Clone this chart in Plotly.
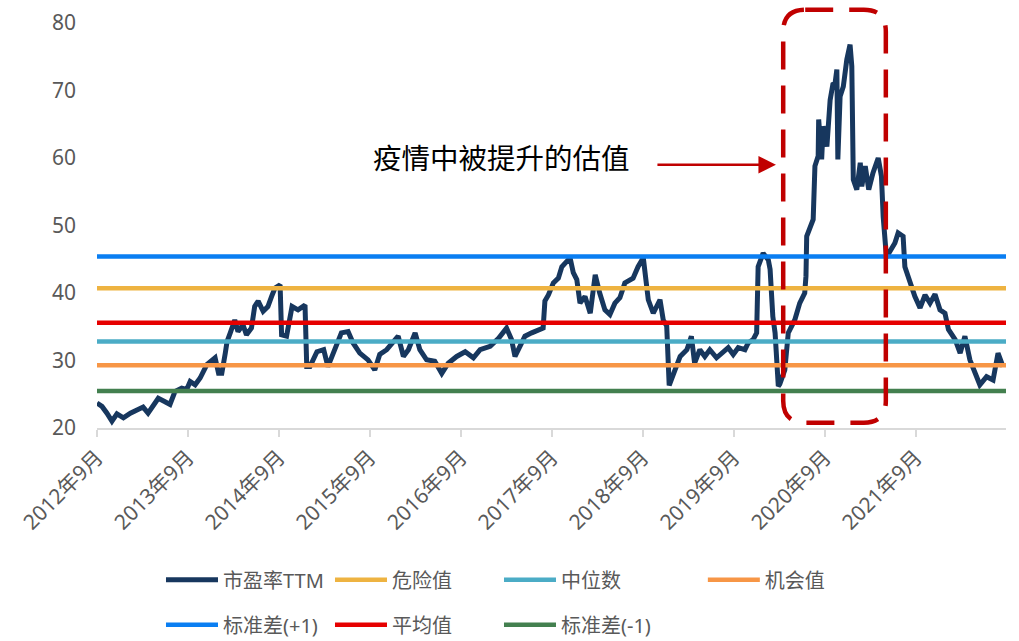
import plotly.graph_objects as go

# ---------------- data ----------------
dates = [
    "2012-09-01", "2012-09-21", "2012-10-11", "2012-10-31", "2012-11-20", "2012-12-16",
    "2013-01-13", "2013-02-09", "2013-03-05", "2013-03-25", "2013-04-15", "2013-05-05",
    "2013-06-01", "2013-06-21", "2013-07-11", "2013-08-07", "2013-08-27", "2013-09-10",
    "2013-09-30", "2013-10-20", "2013-11-16", "2013-12-06", "2013-12-19", "2014-01-02",
    "2014-01-15", "2014-01-29", "2014-02-05", "2014-02-18", "2014-03-08", "2014-03-21",
    "2014-04-10", "2014-04-24", "2014-05-14", "2014-05-27", "2014-06-10", "2014-06-30",
    "2014-07-19", "2014-08-03", "2014-08-16", "2014-09-06", "2014-09-12", "2014-10-02",
    "2014-10-24", "2014-11-17", "2014-12-15", "2014-12-22", "2015-01-04", "2015-02-01",
    "2015-02-28", "2015-03-17", "2015-04-07", "2015-05-10", "2015-06-06", "2015-06-26",
    "2015-07-23", "2015-08-25", "2015-09-21", "2015-10-11", "2015-11-08", "2015-12-04",
    "2015-12-24", "2016-01-14", "2016-02-03", "2016-03-01", "2016-03-20", "2016-04-16",
    "2016-05-19", "2016-06-16", "2016-07-12", "2016-08-15", "2016-09-18", "2016-10-21",
    "2016-11-17", "2016-12-27", "2017-01-30", "2017-03-03", "2017-03-23", "2017-04-06",
    "2017-04-26", "2017-05-16", "2017-06-12", "2017-07-08", "2017-07-28", "2017-08-04",
    "2017-08-18", "2017-09-07", "2017-09-27", "2017-10-11", "2017-10-31", "2017-11-13",
    "2017-11-26", "2017-12-10", "2017-12-23", "2018-01-12", "2018-02-02", "2018-02-22",
    "2018-03-12", "2018-04-02", "2018-04-22", "2018-05-12", "2018-06-01", "2018-06-21",
    "2018-07-24", "2018-08-13", "2018-09-03", "2018-09-23", "2018-10-13", "2018-11-09",
    "2018-11-22", "2018-12-06", "2018-12-16", "2019-01-09", "2019-01-29", "2019-02-25",
    "2019-03-15", "2019-03-28", "2019-04-18", "2019-05-08", "2019-05-28", "2019-06-24",
    "2019-07-14", "2019-08-10", "2019-08-30", "2019-09-19", "2019-10-16", "2019-10-29",
    "2019-11-18", "2019-12-02", "2019-12-08", "2019-12-28", "2020-01-18", "2020-01-25",
    "2020-02-05", "2020-02-14", "2020-02-27", "2020-03-04", "2020-03-24", "2020-04-07",
    "2020-05-03", "2020-05-23", "2020-06-12", "2020-06-17", "2020-06-20", "2020-07-16",
    "2020-07-23", "2020-08-05", "2020-08-07", "2020-08-19", "2020-08-25", "2020-09-09",
    "2020-09-22", "2020-10-03", "2020-10-12", "2020-10-19", "2020-10-23", "2020-11-01",
    "2020-11-14", "2020-11-28", "2020-12-11", "2020-12-18", "2020-12-24", "2021-01-07",
    "2021-01-21", "2021-01-27", "2021-02-10", "2021-02-24", "2021-03-13", "2021-04-03",
    "2021-04-16", "2021-04-23", "2021-05-06", "2021-05-19", "2021-06-09", "2021-06-22",
    "2021-07-12", "2021-07-19", "2021-08-08", "2021-08-28", "2021-09-18", "2021-10-08",
    "2021-10-28", "2021-11-17", "2021-12-07", "2021-12-27", "2022-01-10", "2022-02-06",
    "2022-02-26", "2022-03-17", "2022-04-06", "2022-04-26", "2022-05-16", "2022-06-12",
    "2022-07-08", "2022-07-28", "2022-08-17",
]
pe_ttm = [
    23.7, 23.2, 22.2, 21.0, 22.1, 21.5,
    22.2, 22.7, 23.1, 22.2, 23.2, 24.4,
    23.9, 23.5, 25.4, 25.9, 25.7, 26.9,
    26.4, 27.4, 29.4, 29.9, 30.4, 28.1,
    28.1, 31.1, 32.8, 34.1, 36.0, 34.3,
    35.3, 33.8, 34.8, 38.0, 38.8, 37.3,
    38.0, 39.5, 40.7, 41.2, 33.8, 33.6,
    38.0, 37.5, 38.2, 29.1, 29.1, 31.3,
    31.6, 29.1, 31.1, 34.1, 34.3, 32.6,
    31.1, 30.1, 28.6, 30.9, 31.6, 32.6,
    33.6, 30.6, 31.6, 34.1, 31.6, 30.1,
    29.9, 28.1, 29.6, 30.6, 31.3, 30.4,
    31.6, 32.1, 33.3, 34.8, 33.1, 30.6,
    32.1, 33.6, 34.1, 34.6, 34.8, 38.8,
    39.7, 41.5, 42.2, 43.9, 44.7, 45.2,
    43.0, 42.0, 38.5, 39.5, 37.0, 42.7,
    40.0, 37.5, 36.8, 38.5, 39.3, 41.5,
    42.2, 43.9, 45.2, 39.0, 37.0, 39.0,
    36.0, 35.1, 26.3, 28.6, 30.6, 31.6,
    33.6, 29.6, 31.6, 30.6, 31.6, 30.4,
    31.1, 31.9, 30.9, 31.9, 31.6, 32.6,
    33.1, 34.1, 43.9, 45.9, 44.9, 43.5,
    36.5, 34.1, 26.2, 26.5, 28.6, 34.1,
    36.0, 38.5, 40.0, 42.5, 48.4, 50.9,
    58.8, 60.3, 65.7, 59.8, 64.7, 61.7,
    68.6, 70.9, 71.1, 73.1, 59.8, 69.1,
    70.6, 74.6, 76.8, 73.6, 56.8, 55.3,
    59.3, 55.8, 58.8, 55.3, 57.8, 60.0,
    57.3, 51.3, 45.3, 46.0, 47.4, 48.9,
    48.4, 43.9, 41.5, 39.5, 37.8, 39.7,
    38.5, 39.8, 37.5, 37.0, 34.6, 33.1,
    31.1, 33.6, 30.1, 28.1, 26.4, 27.6,
    27.1, 31.1, 29.1,
]

level_names = ["危险值", "中位数", "机会值", "标准差(+1)", "平均值", "标准差(-1)"]
level_values = [40.7, 32.8, 29.3, 45.4, 35.6, 25.5]

tick_years = list(range(2012, 2022))
tick_vals = [f"{y}-09-01" for y in tick_years]
tick_text = [f"{y}年9月" for y in tick_years]
x_range = ["2012-09-01", "2022-08-29"]

# ---------------- styles ----------------
pe_name = "市盈率TTM"
pe_color = "#17375E"
level_colors = {
    "危险值": "#EEB341",
    "中位数": "#4BACC6",
    "机会值": "#F79646",
    "标准差(+1)": "#0A7EF2",
    "平均值": "#E60000",
    "标准差(-1)": "#43804F",
}
level_legend = {
    "危险值": "legend",
    "中位数": "legend",
    "机会值": "legend3",
    "标准差(+1)": "legend2",
    "平均值": "legend2",
    "标准差(-1)": "legend2",
}
level_rank = {"危险值": 2, "中位数": 3, "机会值": 1, "标准差(+1)": 1, "平均值": 2, "标准差(-1)": 3}

grey = "#595959"
font_family = "Noto Sans, Noto Sans CJK SC"

fig = go.Figure()
fig.add_trace(go.Scatter(
    x=dates, y=pe_ttm, mode="lines", name=pe_name,
    line=dict(color=pe_color, width=5), legend="legend", legendrank=1,
))
for name, val in zip(level_names, level_values):
    fig.add_trace(go.Scatter(
        x=x_range, y=[val, val], mode="lines", name=name,
        line=dict(color=level_colors[name], width=4.5),
        legend=level_legend[name], legendrank=level_rank[name],
    ))

# rounded dashed rectangle (paper coords)
x0, x1 = 0.7549, 0.8678
y0, y1 = 0.0131, 1.0328
rx, ry = 0.0242, 0.0543
path = (
    f"M {x0+rx},{y1} L {x1-rx},{y1} Q {x1},{y1} {x1},{y1-ry} "
    f"L {x1},{y0+ry} Q {x1},{y0} {x1-rx},{y0} "
    f"L {x0+rx},{y0} Q {x0},{y0} {x0},{y0+ry} "
    f"L {x0},{y1-ry} Q {x0},{y1} {x0+rx},{y1} Z"
)
fig.add_shape(type="path", path=path, xref="paper", yref="paper",
              line=dict(color="#C00000", width=4.5, dash="28px,16px"),
              fillcolor="rgba(0,0,0,0)", layer="above")

fig.add_annotation(
    text="疫情中被提升的估值", xref="paper", yref="paper", x=0.4445, y=0.670,
    xanchor="center", yanchor="middle", showarrow=False,
    font=dict(size=28.5, color="#000000", family="Noto Sans CJK SC"),
)
fig.add_annotation(
    text="", xref="paper", yref="paper", x=0.7469, y=0.650,
    showarrow=True, ax=-120, ay=0, arrowhead=2, arrowsize=1.4,
    arrowwidth=2.5, arrowcolor="#C00000", standoff=0,
)

legend_common = dict(
    orientation="h", yanchor="middle", xanchor="left",
    font=dict(size=20, color=grey, family=font_family),
    entrywidth=102, entrywidthmode="pixels", itemwidth=52,
    bgcolor="rgba(0,0,0,0)", tracegroupgap=0,
)

fig.update_layout(
    width=1019, height=641,
    margin=dict(l=97, r=13, t=23, b=213, autoexpand=False),
    plot_bgcolor="white", paper_bgcolor="white",
    font=dict(family=font_family, color=grey),
    showlegend=True,
    legend=dict(x=0.0704, y=-0.3746, **legend_common),
    legend2=dict(x=0.0704, y=-0.486, **legend_common),
    legend3=dict(x=0.6665, y=-0.3746, **legend_common),
    xaxis=dict(
        type="date", range=x_range, tickmode="array",
        tickvals=tick_vals, ticktext=tick_text, tickangle=-45,
        showgrid=False, zeroline=False, automargin=False,
        showline=True, linecolor="#D9D9D9", linewidth=1.5,
        ticks="outside", ticklen=7, tickwidth=1.5, tickcolor="#D9D9D9",
        tickfont=dict(size=21, color=grey, family=font_family),
    ),
    yaxis=dict(
        range=[20, 80], tickvals=[20, 30, 40, 50, 60, 70, 80],
        showgrid=False, zeroline=False, showline=False, automargin=False,
        ticklabelstandoff=20,
        tickfont=dict(size=21, color=grey, family=font_family),
    ),
)

fig.write_html(
    "out.html",
    config={"displayModeBar": False},
    post_script="document.body.style.margin='0';document.body.style.overflow='hidden';",
)
